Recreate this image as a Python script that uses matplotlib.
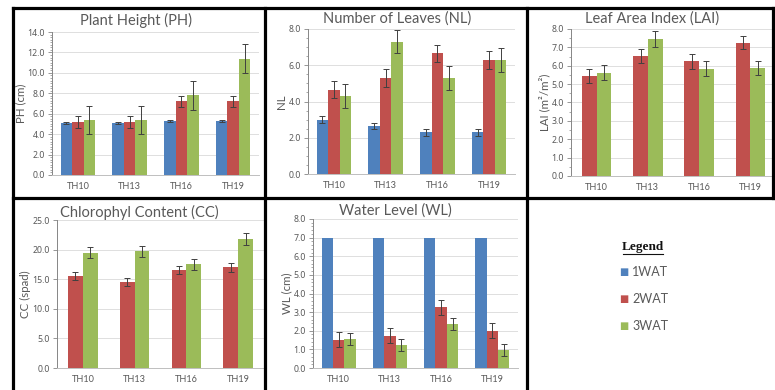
import numpy as np
import matplotlib
matplotlib.use('Agg')
import matplotlib.pyplot as plt
from matplotlib.ticker import MultipleLocator, FormatStrFormatter
from matplotlib.lines import Line2D

plt.rcParams['font.family'] = ['Lato', 'DejaVu Sans']

# categories and series
cats = ['TH10', 'TH13', 'TH16', 'TH19']
series_names = ['1WAT', '2WAT', '3WAT']
colors = {'1WAT': '#4F81BD', '2WAT': '#C0504D', '3WAT': '#9BBB59'}

ph_1 = [5.1, 5.1, 5.3, 5.3]
ph_1_err = [0.1, 0.1, 0.1, 0.1]
ph_2 = [5.2, 5.2, 7.2, 7.2]
ph_2_err = [0.6, 0.6, 0.55, 0.55]
ph_3 = [5.4, 5.4, 7.8, 11.4]
ph_3_err = [1.4, 1.4, 1.45, 1.45]

nl_1 = [3.0, 2.65, 2.3, 2.3]
nl_1_err = [0.18, 0.18, 0.2, 0.2]
nl_2 = [4.65, 5.3, 6.65, 6.3]
nl_2_err = [0.48, 0.48, 0.48, 0.48]
nl_3 = [4.3, 7.3, 5.3, 6.3]
nl_3_err = [0.65, 0.65, 0.65, 0.65]

lai_2 = [5.43, 6.55, 6.25, 7.25]
lai_2_err = [0.38, 0.38, 0.4, 0.36]
lai_3 = [5.63, 7.45, 5.85, 5.87]
lai_3_err = [0.4, 0.42, 0.42, 0.4]

cc_2 = [15.5, 14.5, 16.6, 17.0]
cc_2_err = [0.7, 0.7, 0.7, 0.7]
cc_3 = [19.5, 19.7, 17.5, 21.8]
cc_3_err = [0.9, 0.9, 0.9, 1.0]

wl_1 = [7.0, 7.0, 7.0, 7.0]
wl_2 = [1.52, 1.73, 3.27, 2.0]
wl_2_err = [0.4, 0.4, 0.4, 0.4]
wl_3 = [1.55, 1.25, 2.37, 0.98]
wl_3_err = [0.32, 0.32, 0.32, 0.32]

W, H = 775, 390
fig = plt.figure(figsize=(W / 100, H / 100), dpi=100)
fig.patch.set_facecolor('white')
txt = '#595959'


def px_axes(left, right, top, bottom):
    return fig.add_axes([left / W, 1 - bottom / H, (right - left) / W, (bottom - top) / H])


def panel(ax, data, title, title_xy, ylabel, ymax, major, minor, fmt='%.1f'):
    n = len(data)
    bw = 1 / (n + 1.5)
    x = np.arange(len(cats))
    for i, (name, vals, errs) in enumerate(data):
        off = (i - (n - 1) / 2) * bw
        ax.bar(x + off, vals, bw, color=colors[name], zorder=2)
        if errs is not None:
            ax.errorbar(x + off, vals, yerr=errs, fmt='none', ecolor='#404040',
                        elinewidth=0.7, capsize=2.2, capthick=0.7, zorder=3)
    ax.set_xlim(-0.5, len(cats) - 0.5)
    ax.set_ylim(0, ymax)
    ax.set_xticks(x)
    ax.set_xticklabels(cats)
    ax.yaxis.set_major_locator(MultipleLocator(major))
    if minor:
        ax.yaxis.set_minor_locator(MultipleLocator(minor))
    ax.yaxis.set_major_formatter(FormatStrFormatter(fmt))
    ax.grid(axis='y', color='#D9D9D9', linewidth=0.6, zorder=0)
    ax.set_axisbelow(True)
    for s in ['top', 'right']:
        ax.spines[s].set_visible(False)
    ax.spines['left'].set_color('#868686')
    ax.spines['left'].set_linewidth(0.7)
    ax.spines['bottom'].set_color('#BFBFBF')
    ax.spines['bottom'].set_linewidth(0.7)
    ax.tick_params(axis='y', which='major', length=3, width=0.6, color='#868686',
                   labelsize=6.3, labelcolor=txt, pad=2, labelfontfamily='Noto Sans')
    ax.tick_params(axis='y', which='minor', length=1.8, width=0.5, color='#868686')
    ax.tick_params(axis='x', length=0, labelsize=6.6, labelcolor=txt, pad=5)
    ax.set_ylabel(ylabel, fontsize=8.3, color=txt, labelpad=1)
    fig.text(title_xy[0] / W, 1 - title_xy[1] / H, title, ha='center', va='center',
             fontsize=10.5, color=txt)


ax1 = px_axes(52, 259, 32, 175)
panel(ax1, [('1WAT', ph_1, ph_1_err), ('2WAT', ph_2, ph_2_err), ('3WAT', ph_3, ph_3_err)],
      'Plant Height (PH)', (136, 20), 'PH (cm)', 14, 2, 0.25)

ax2 = px_axes(308, 515, 29, 174)
panel(ax2, [('1WAT', nl_1, nl_1_err), ('2WAT', nl_2, nl_2_err), ('3WAT', nl_3, nl_3_err)],
      'Number of Leaves (NL)', (397, 19), 'NL', 8, 2, 0.5)

ax3 = px_axes(571, 776, 29, 176)
panel(ax3, [('2WAT', lai_2, lai_2_err), ('3WAT', lai_3, lai_3_err)],
      'Leaf Area Index (LAI)', (652, 19), 'LAI (m²/m²)', 8, 1, 0.5)

ax4 = px_axes(57, 264, 220, 368)
panel(ax4, [('2WAT', cc_2, cc_2_err), ('3WAT', cc_3, cc_3_err)],
      'Chlorophyl Content (CC)', (139, 212), 'CC (spad)', 25, 5, None)

ax5 = px_axes(313, 518, 219, 368)
panel(ax5, [('1WAT', wl_1, None), ('2WAT', wl_2, wl_2_err), ('3WAT', wl_3, wl_3_err)],
      'Water Level (WL)', (395, 211), 'WL (cm)', 8, 1, 0.2)

# black panel borders
def border(x0, y0, x1, y1):
    fig.add_artist(Line2D([x0 / W, x1 / W], [1 - y0 / H, 1 - y1 / H], color='black',
                          linewidth=2.3, zorder=10, solid_capstyle='projecting'))


border(13, 8, 773, 8)
border(13, 198, 775, 198)
border(13, 8, 13, 390)
border(265, 8, 265, 390)
border(527, 8, 527, 390)
border(773, 8, 773, 198)

# legend panel
fig.text(643 / W, 1 - 247 / H, 'Legend', ha='center', va='center', fontsize=9.5,
         fontweight='bold', family='Liberation Serif', color='#111111')
fig.add_artist(Line2D([623 / W, 663 / W], [1 - 254 / H, 1 - 254 / H], color='#111111',
                      linewidth=0.8))
for i, name in enumerate(series_names):
    y = 1 - (272 + i * 27) / H
    fig.text(628 / W, y, '■', ha='right', va='center', fontsize=7,
             color=colors[name], family='DejaVu Sans')
    fig.text(632 / W, y, name, ha='left', va='center', fontsize=9, color=txt)

fig.savefig('out.png', dpi=100)
